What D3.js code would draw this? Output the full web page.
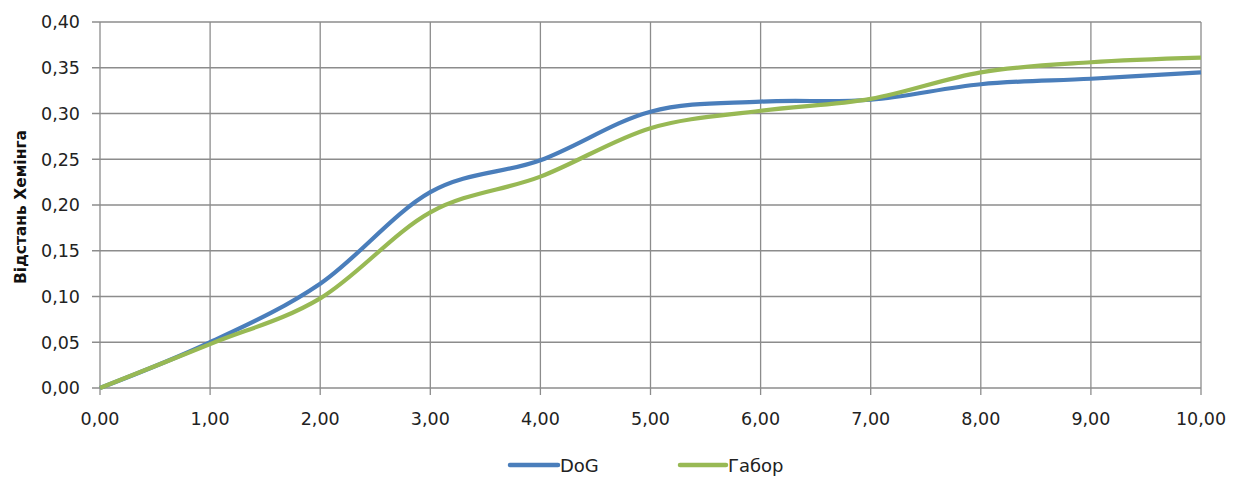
<!DOCTYPE html>
<html>
<head>
<meta charset="utf-8">
<script src="https://cdn.jsdelivr.net/npm/d3@7"></script>
<style>
  body { margin: 0; background: #fff; }
  svg text { font-family: "DejaVu Sans", Verdana, sans-serif; }
</style>
</head>
<body>
<svg id="chart" width="1245" height="477"></svg>
<script>
const xValues = [0, 1, 2, 3, 4, 5, 6, 7, 8, 9, 10];
const dogValues = [0, 0.050, 0.114, 0.214, 0.249, 0.302, 0.313, 0.315, 0.332, 0.338, 0.345];
const gaborValues = [0, 0.048, 0.098, 0.192, 0.231, 0.284, 0.303, 0.316, 0.345, 0.356, 0.361];
const seriesNames = ["DoG", "Габор"];
const seriesColors = ["#4a7ebb", "#98b954"];
const xTicks = [0, 1, 2, 3, 4, 5, 6, 7, 8, 9, 10];
const yTicks = [0, 0.05, 0.10, 0.15, 0.20, 0.25, 0.30, 0.35, 0.40];
const yTitle = "Відстань  Хемінга";

(function () {
const svg = d3.select("#chart");
const pLeft = 100, pRight = 1201, pTop = 22, pBottom = 388;
const x = d3.scaleLinear().domain([0, 10]).range([pLeft, pRight]);
const y = d3.scaleLinear().domain([0, 0.40]).range([pBottom, pTop]);
const fmt = v => v.toFixed(2).replace(".", ",");
const gridColor = "#8c8c8c";

svg.append("g").selectAll("line").data(yTicks).join("line")
  .attr("x1", pLeft - 8).attr("x2", pRight)
  .attr("y1", d => y(d)).attr("y2", d => y(d))
  .attr("stroke", gridColor).attr("stroke-width", 1.3);
svg.append("g").selectAll("line").data(xTicks).join("line")
  .attr("x1", d => x(d)).attr("x2", d => x(d))
  .attr("y1", pTop).attr("y2", pBottom + 7)
  .attr("stroke", gridColor).attr("stroke-width", 1.3);

svg.append("g").selectAll("text").data(yTicks).join("text")
  .attr("x", 80).attr("y", d => y(d)).attr("dy", "0.36em")
  .attr("text-anchor", "end").attr("font-size", 17.5).attr("fill", "#222")
  .text(fmt);
svg.append("g").selectAll("text").data(xTicks).join("text")
  .attr("x", d => x(d)).attr("y", 425)
  .attr("text-anchor", "middle").attr("font-size", 17.5).attr("fill", "#222")
  .text(fmt);

svg.append("text")
  .attr("transform", "translate(26,207) rotate(-90)")
  .attr("text-anchor", "middle").attr("font-size", 15.5).attr("font-weight", "bold")
  .attr("fill", "#111")
  .text(yTitle);

const line = d3.line().x((d, i) => x(xValues[i])).y(d => y(d)).curve(d3.curveCardinal.tension(0));
const series = [dogValues, gaborValues];
svg.append("g").selectAll("path").data(series).join("path")
  .attr("d", d => line(d))
  .attr("fill", "none")
  .attr("stroke", (d, i) => seriesColors[i])
  .attr("stroke-width", 4.2)
  .attr("stroke-linejoin", "round");

const legendItems = [{x: 510, w: 48}, {x: 680, w: 46}];
const lg = svg.append("g");
seriesNames.forEach((name, i) => {
  lg.append("line")
    .attr("x1", legendItems[i].x).attr("x2", legendItems[i].x + legendItems[i].w)
    .attr("y1", 465).attr("y2", 465)
    .attr("stroke", seriesColors[i]).attr("stroke-width", 4.5).attr("stroke-linecap", "round");
  lg.append("text")
    .attr("x", legendItems[i].x + legendItems[i].w + 2).attr("y", 472)
    .attr("font-size", 18).attr("fill", "#222")
    .text(name);
});
})();
</script>
</body>
</html>
